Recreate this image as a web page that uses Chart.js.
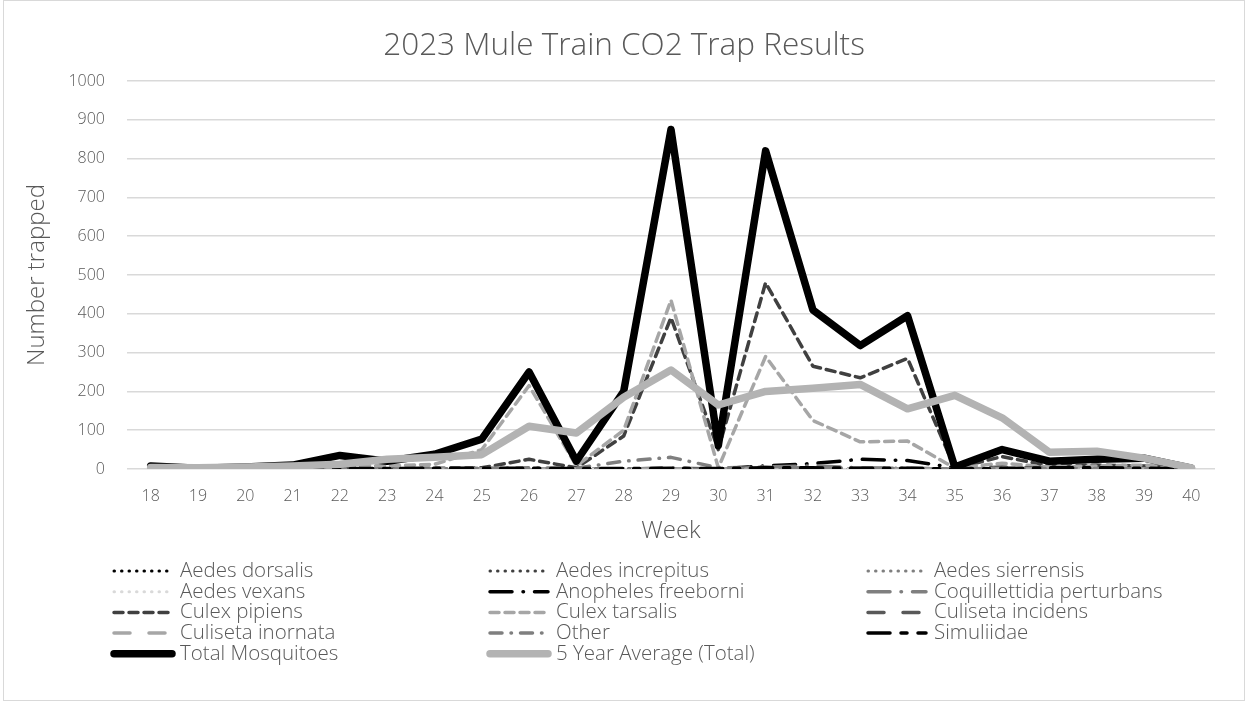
<!DOCTYPE html>
<html>
<head>
<meta charset="utf-8">
<title>2023 Mule Train CO2 Trap Results</title>
<script src="https://cdn.jsdelivr.net/npm/chart.js@4/dist/chart.umd.min.js"></script>
<style>
  html, body { margin: 0; padding: 0; background: #fff; }
  #wrap { position: absolute; left: 3px; top: 0; width: 1240px; height: 699px; border: 1px solid #d9d9d9; }
  canvas { display: block; }
</style>
</head>
<body>
<div id="wrap"><canvas id="trapChart" width="1240" height="699"></canvas></div>
<script>
// Semanas (eixo X)
const weeks = ['18','19','20','21','22','23','24','25','26','27','28','29','30','31','32','33','34','35','36','37','38','39','40'];

// Valores, por espécie
const aedesDorsalis    = [0,0,0,0,0,0,0,0,0,0,0,0,0,0,0,0,0,0,0,0,0,0,0];
const aedesIncrepitus  = [0,0,0,0,0,0,0,0,0,0,0,0,0,0,0,0,0,0,0,0,0,0,0];
const aedesSierrensis  = [0,0,0,0,0,0,0,0,0,0,0,0,0,0,0,0,0,0,0,0,0,0,0];
const aedesVexans      = [0,0,0,0,0,0,0,0,0,0,0,0,0,0,0,0,0,0,0,0,0,0,0];
const anophelesFreeborni = [0,0,0,0,0,0,0,0,0,0,0,2,0,8,14,25,22,3,0,0,0,0,0];
const coquillettidia   = [0,0,0,0,0,0,0,0,0,0,0,0,0,5,8,3,2,0,0,0,0,0,0];
const culexPipiens     = [5,0,2,3,5,2,2,3,25,3,85,390,50,480,265,235,285,2,32,8,10,8,0];
const culexTarsalis    = [1,0,1,2,10,8,12,50,215,8,100,435,3,290,125,70,72,2,15,5,8,10,0];
const culisetaIncidens = [0,0,0,0,0,0,0,0,0,0,0,0,0,0,0,0,0,0,5,2,0,0,0];
const culisetaInornata = [0,0,0,0,0,0,0,0,0,0,0,0,0,0,0,0,0,0,0,0,0,0,0];
const other            = [0,0,0,0,0,0,0,2,3,2,20,30,3,5,3,2,2,0,2,1,1,0,0];
const simuliidae       = [0,0,0,0,1,1,2,2,2,1,1,2,1,3,3,2,2,0,1,3,3,2,0];
const totalMosquitoes  = [8,2,5,10,35,20,38,77,250,20,200,875,60,820,410,318,395,5,50,20,25,28,2];
const fiveYearAverage  = [4,3,5,8,12,25,30,37,110,93,185,255,165,200,208,218,155,190,132,43,46,28,3];

const yTicksMax = 1000;
const yTickStep = 100;

const chartTitle = '2023 Mule Train CO2 Trap Results';
const textGray = '#595959';
const fontFamily = '"Open Sans", "Noto Sans", sans-serif';

// estilo de cada série (cor, espessura, tracejado)
function serie(label, data, color, width, dash) {
  return {
    label: label,
    data: data,
    borderColor: color,
    backgroundColor: color,
    borderWidth: width,
    borderDash: dash,
    borderCapStyle: 'round',
    borderJoinStyle: 'round',
    pointRadius: 0,
    pointHoverRadius: 0,
    tension: 0,
    fill: false
  };
}

const datasets = [
  serie('Aedes dorsalis', aedesDorsalis, '#000000', 3, [0.5, 7]),
  serie('Aedes increpitus', aedesIncrepitus, '#404040', 3, [0.5, 7]),
  serie('Aedes sierrensis', aedesSierrensis, '#7f7f7f', 3, [0.5, 7]),
  serie('Aedes vexans', aedesVexans, '#d9d9d9', 3, [0.5, 7]),
  serie('Anopheles freeborni', anophelesFreeborni, '#000000', 3.5, [22, 11, 0.5, 11]),
  serie('Coquillettidia perturbans', coquillettidia, '#7f7f7f', 3.5, [22, 11, 0.5, 11]),
  serie('Culex pipiens', culexPipiens, '#404040', 3.5, [9, 6]),
  serie('Culex tarsalis', culexTarsalis, '#a6a6a6', 3.5, [9, 6]),
  serie('Culiseta incidens', culisetaIncidens, '#595959', 3.5, [16, 19]),
  serie('Culiseta inornata', culisetaInornata, '#a6a6a6', 3.5, [16, 19]),
  serie('Other', other, '#7f7f7f', 3.5, [12, 9, 0.5, 9]),
  serie('Simuliidae', simuliidae, '#000000', 3.5, [22, 11, 6, 11]),
  serie('Total Mosquitoes', totalMosquitoes, '#000000', 7.5, []),
  serie('5 Year Average (Total)', fiveYearAverage, '#b3b3b3', 7.5, [])
];
// séries posteriores desenhadas por cima (como no Excel)
datasets.forEach((ds, i) => { ds.order = datasets.length - i; });

// Título centrado no canvas inteiro + legenda em 3 colunas
const titleAndLegend = {
  id: 'titleAndLegend',
  afterDraw(chart) {
    const ctx = chart.ctx;
    ctx.save();
    ctx.fillStyle = textGray;
    ctx.font = '300 31.5px ' + fontFamily;
    ctx.textAlign = 'center';
    ctx.textBaseline = 'middle';
    ctx.fillText(chartTitle, chart.width / 2, 45);
    ctx.restore();

    const cols = [106, 482, 860];
    const y0 = 570, rowH = 20.7;
    chart.data.datasets.forEach((ds, i) => {
      const x = cols[i % 3];
      const y = y0 + Math.floor(i / 3) * rowH;
      ctx.save();
      ctx.strokeStyle = ds.borderColor;
      ctx.lineWidth = ds.borderWidth;
      ctx.lineCap = 'round';
      ctx.setLineDash(ds.borderDash);
      ctx.beginPath();
      ctx.moveTo(x + 4, y);
      ctx.lineTo(x + 62, y);
      ctx.stroke();
      ctx.setLineDash([]);
      ctx.fillStyle = textGray;
      ctx.font = '300 20.5px ' + fontFamily;
      ctx.textBaseline = 'middle';
      ctx.fillText(ds.label, x + 70, y);
      ctx.restore();
    });
  }
};

new Chart(document.getElementById('trapChart'), {
  type: 'line',
  data: { labels: weeks, datasets: datasets },
  plugins: [titleAndLegend],
  options: {
    responsive: false,
    animation: false,
    layout: { padding: { left: 8, right: 29, top: 80, bottom: 153 } },
    plugins: {
      legend: { display: false },
      tooltip: { enabled: false },
      title: { display: false }
    },
    scales: {
      x: {
        offset: true,
        grid: { display: false, drawTicks: false },
        border: { display: false },
        ticks: { color: textGray, font: { family: fontFamily, size: 16, weight: '300', lineHeight: 1 }, padding: 19, maxRotation: 0, autoSkip: false },
        title: { display: true, text: 'Week', color: textGray, font: { family: fontFamily, size: 24, weight: '300', lineHeight: 1 }, padding: { top: -4, bottom: 4 } }
      },
      y: {
        min: 0,
        max: yTicksMax,
        afterFit: (scale) => { scale.width = 115; },
        grid: { color: '#d9d9d9', lineWidth: 1.5, drawTicks: false },
        border: { display: false },
        ticks: {
          stepSize: yTickStep,
          color: textGray,
          font: { family: fontFamily, size: 16, weight: '300' },
          padding: 22,
          callback: (v) => String(v)
        },
        title: { display: true, text: 'Number trapped', color: textGray, font: { family: fontFamily, size: 24, weight: '300' }, padding: { top: 11, bottom: 0 } }
      }
    }
  }
});
</script>
</body>
</html>
